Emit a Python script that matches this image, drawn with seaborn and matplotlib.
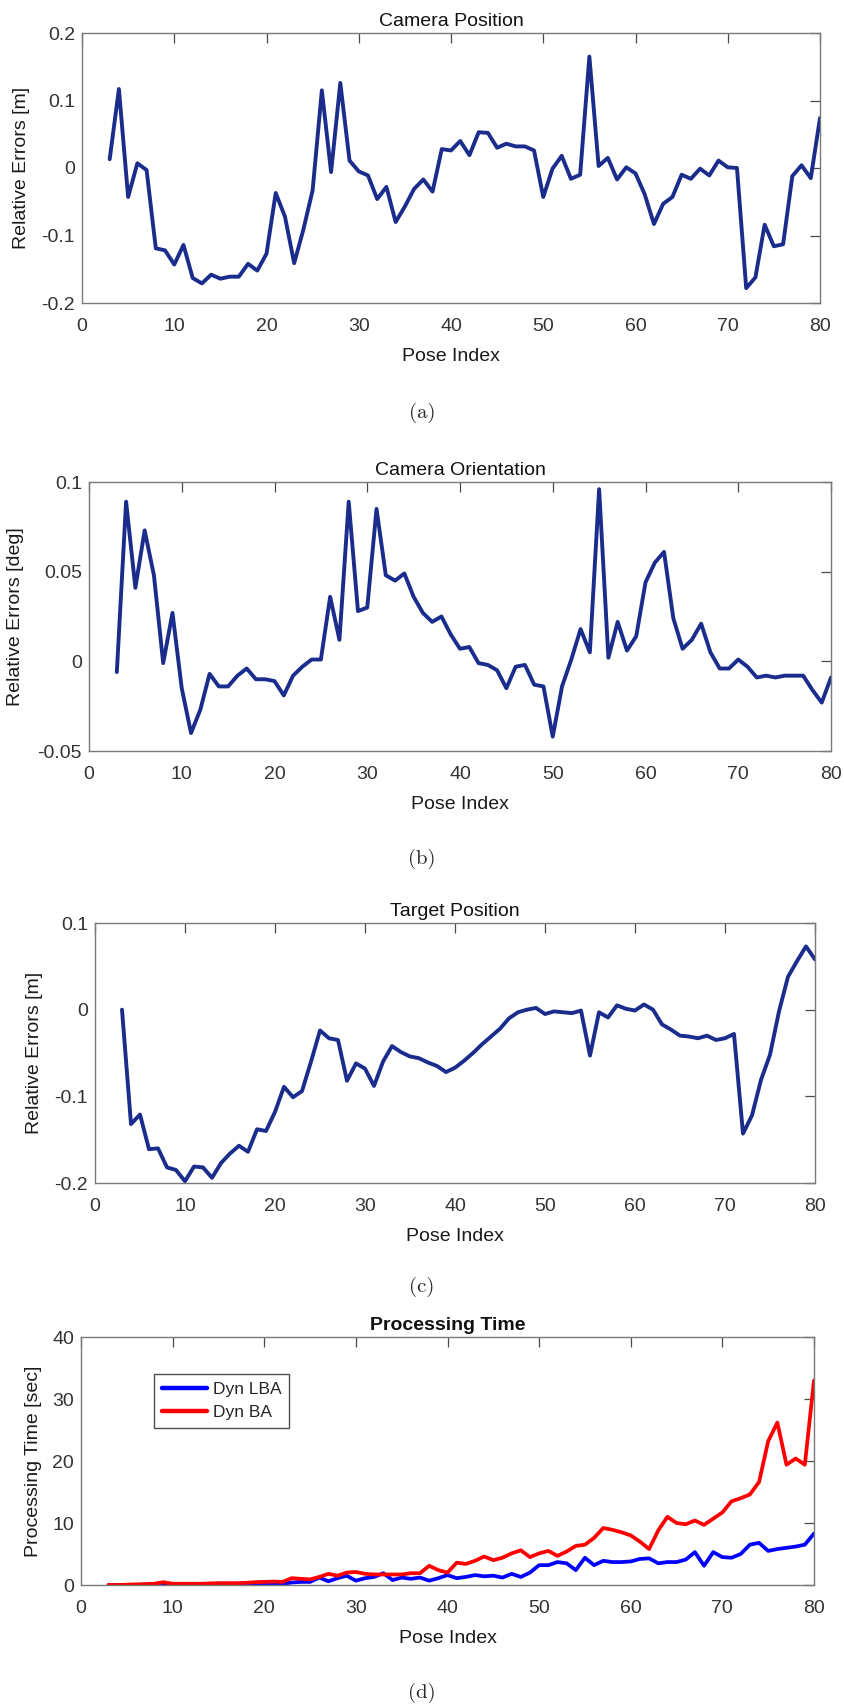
import numpy as np
import pandas as pd
import matplotlib
matplotlib.use("Agg")
import matplotlib.pyplot as plt
import seaborn as sns

pose = list(range(3, 81))

cam_pos = [0.013, 0.117, -0.043, 0.007, -0.003, -0.119, -0.122, -0.143, -0.114, -0.163,
           -0.171, -0.158, -0.164, -0.161, -0.161, -0.142, -0.152, -0.127, -0.037, -0.072,
           -0.141, -0.091, -0.033, 0.115, -0.006, 0.126, 0.011, -0.005, -0.011, -0.046,
           -0.028, -0.080, -0.057, -0.031, -0.017, -0.035, 0.028, 0.026, 0.040, 0.019,
           0.053, 0.052, 0.030, 0.036, 0.032, 0.032, 0.026, -0.043, -0.001, 0.018,
           -0.016, -0.010, 0.165, 0.003, 0.015, -0.017, 0.001, -0.008, -0.039, -0.083,
           -0.053, -0.043, -0.010, -0.016, -0.001, -0.011, 0.011, 0.001, 0.000, -0.178,
           -0.162, -0.084, -0.116, -0.113, -0.012, 0.004, -0.015, 0.074]

cam_ori = [-0.006, 0.089, 0.041, 0.073, 0.048, -0.001, 0.027, -0.015, -0.040, -0.027,
           -0.007, -0.014, -0.014, -0.008, -0.004, -0.010, -0.010, -0.011, -0.019, -0.008,
           -0.003, 0.001, 0.001, 0.036, 0.012, 0.089, 0.028, 0.030, 0.085, 0.048,
           0.045, 0.049, 0.036, 0.027, 0.022, 0.025, 0.015, 0.007, 0.008, -0.001,
           -0.002, -0.005, -0.015, -0.003, -0.002, -0.013, -0.014, -0.042, -0.014, 0.001,
           0.018, 0.005, 0.096, 0.002, 0.022, 0.006, 0.014, 0.044, 0.055, 0.061,
           0.024, 0.007, 0.012, 0.021, 0.005, -0.004, -0.004, 0.001, -0.003, -0.009,
           -0.008, -0.009, -0.008, -0.008, -0.008, -0.016, -0.023, -0.009]

tgt_pos = [0.000, -0.132, -0.121, -0.161, -0.160, -0.182, -0.185, -0.198, -0.181, -0.182,
           -0.194, -0.177, -0.166, -0.157, -0.164, -0.138, -0.140, -0.118, -0.089, -0.101,
           -0.094, -0.060, -0.024, -0.033, -0.035, -0.082, -0.062, -0.068, -0.088, -0.060,
           -0.042, -0.049, -0.054, -0.056, -0.061, -0.065, -0.072, -0.067, -0.059, -0.050,
           -0.040, -0.031, -0.022, -0.010, -0.003, 0.000, 0.002, -0.005, -0.002, -0.003,
           -0.004, -0.001, -0.053, -0.003, -0.009, 0.005, 0.001, -0.001, 0.006, 0.000,
           -0.017, -0.023, -0.030, -0.031, -0.033, -0.030, -0.035, -0.033, -0.028, -0.143,
           -0.122, -0.081, -0.052, -0.002, 0.038, 0.056, 0.073, 0.058]

time_lba = [0, 0, 0, 0.02, 0.03, 0.05, 0.05, 0.05, 0.05, 0.05,
            0.05, 0.06, 0.08, 0.1, 0.1, 0.12, 0.15, 0.2, 0.2, 0.2,
            0.4, 0.5, 0.5, 1.2, 0.6, 1.1, 1.5, 0.7, 1.1, 1.3,
            1.9, 0.8, 1.2, 1.0, 1.2, 0.7, 1.1, 1.6, 1.1, 1.3,
            1.6, 1.4, 1.5, 1.2, 1.8, 1.3, 2.0, 3.2, 3.2, 3.7,
            3.5, 2.4, 4.4, 3.2, 3.9, 3.7, 3.7, 3.8, 4.2, 4.3,
            3.5, 3.7, 3.7, 4.1, 5.3, 3.1, 5.3, 4.5, 4.4, 5.0,
            6.5, 6.8, 5.5, 5.8, 6.0, 6.2, 6.5, 8.3]

time_ba = [0, 0, 0.05, 0.1, 0.15, 0.2, 0.45, 0.2, 0.2, 0.2,
           0.2, 0.25, 0.3, 0.3, 0.3, 0.35, 0.45, 0.5, 0.55, 0.5,
           1.1, 1.0, 0.9, 1.3, 1.8, 1.5, 2.0, 2.1, 1.8, 1.7,
           1.7, 1.7, 1.7, 1.9, 1.9, 3.1, 2.4, 2.0, 3.6, 3.4,
           3.9, 4.6, 4.0, 4.4, 5.1, 5.6, 4.5, 5.1, 5.5, 4.7,
           5.4, 6.3, 6.5, 7.6, 9.2, 8.9, 8.5, 8.0, 7.0, 5.8,
           8.8, 11.0, 10.0, 9.8, 10.4, 9.7, 10.7, 11.7, 13.5, 14.0,
           14.6, 16.6, 23.2, 26.2, 19.4, 20.4, 19.4, 33.0]

titles = ["Camera Position", "Camera Orientation", "Target Position", "Processing Time"]
ylabels = ["Relative Errors [m]", "Relative Errors [deg]", "Relative Errors [m]",
           "Processing Time [sec]"]
captions = ["(a)", "(b)", "(c)", "(d)"]
xticks = [0, 10, 20, 30, 40, 50, 60, 70, 80]
yticks_a = [-0.2, -0.1, 0, 0.1, 0.2]
ylabels_a = ["-0.2", "-0.1", "0", "0.1", "0.2"]
yticks_b = [-0.05, 0, 0.05, 0.1]
ylabels_b = ["-0.05", "0", "0.05", "0.1"]
yticks_c = [-0.2, -0.1, 0, 0.1]
ylabels_c = ["-0.2", "-0.1", "0", "0.1"]
yticks_d = [0, 10, 20, 30, 40]
ylabels_d = ["0", "10", "20", "30", "40"]
series_names = ["Dyn LBA", "Dyn BA"]

sns.set_theme(style="white")
plt.rcParams['font.family'] = ['Liberation Sans', 'DejaVu Sans']
plt.rcParams['axes.edgecolor'] = '#7a7a7a'
plt.rcParams['axes.linewidth'] = 1.0

W, H = 844, 1707
fig = plt.figure(figsize=(W / 100, H / 100), dpi=100)

# (left, right, top, bottom) in pixels
boxes = [(82, 820, 33, 303), (89, 831, 482, 751), (95, 815, 923, 1183), (81, 814, 1337, 1585)]
ylab_x = [21.5, 16, 35, 34]
cap_y = [413, 859, 1287, 1693]

navy = "#1a2d8c"
axes = []
for (l, r, t, b) in boxes:
    ax = fig.add_axes([l / W, 1 - b / H, (r - l) / W, (b - t) / H])
    axes.append(ax)

df_a = pd.DataFrame({"pose": pose, "err": cam_pos})
df_b = pd.DataFrame({"pose": pose, "err": cam_ori})
df_c = pd.DataFrame({"pose": pose, "err": tgt_pos})
df_d = pd.DataFrame({
    "pose": pose + pose,
    "time": time_lba + time_ba,
    "method": [series_names[0]] * len(pose) + [series_names[1]] * len(pose),
})

sns.lineplot(data=df_a, x="pose", y="err", ax=axes[0], color=navy, lw=2.8)
sns.lineplot(data=df_b, x="pose", y="err", ax=axes[1], color=navy, lw=2.8)
sns.lineplot(data=df_c, x="pose", y="err", ax=axes[2], color=navy, lw=2.8)
sns.lineplot(data=df_d, x="pose", y="time", hue="method", ax=axes[3],
             palette={series_names[0]: "#0000ff", series_names[1]: "#ff0000"}, lw=2.7)

ylims = [(-0.2, 0.2), (-0.05, 0.1), (-0.2, 0.1), (0, 40)]
yt = [(yticks_a, ylabels_a), (yticks_b, ylabels_b), (yticks_c, ylabels_c), (yticks_d, ylabels_d)]

for i, ax in enumerate(axes):
    l, r, t, b = boxes[i]
    ax.set_xlim(0, 80)
    ax.set_ylim(*ylims[i])
    ax.set_xticks(xticks)
    ax.set_xticklabels([str(v) for v in xticks])
    ax.set_yticks(yt[i][0])
    ax.set_yticklabels(yt[i][1])
    ax.tick_params(direction="in", length=7, width=0.9, colors="#4a4a4a",
                   top=True, right=True, labelsize=14, labelcolor="#333333")
    ax.tick_params(axis="x", pad=11)
    ax.tick_params(axis="y", pad=5)
    for s in ax.spines.values():
        s.set_visible(True)
        s.set_color("#7a7a7a")
    ax.set_title(titles[i], fontsize=14, pad=5, color="#111111",
                 fontweight="bold" if i == 3 else "normal")
    ax.set_xlabel("Pose Index", fontsize=14, labelpad=9, color="#1a1a1a")
    ax.set_ylabel(ylabels[i], fontsize=14, color="#1a1a1a")
    ax.yaxis.set_label_coords((ylab_x[i] - l) / (r - l), 0.5)
    ax.yaxis.label.set_va("center")
    fig.text(0.5, 1 - cap_y[i] / H, captions[i], ha="center", va="center",
             fontsize=15, family="cmr10")

leg_ax = axes[3]
l, r, t, b = boxes[3]
leg = leg_ax.legend(loc="upper left", bbox_to_anchor=((154 - l) / (r - l), (b - 1374) / (b - t)),
                    borderaxespad=0, fontsize=12.5, frameon=True, fancybox=False,
                    edgecolor="#222222", handlelength=2.6, handletextpad=0.35,
                    labelspacing=0.45, borderpad=0.45)
leg.get_frame().set_linewidth(1.0)
for line in leg.get_lines():
    line.set_linewidth(3.2)

fig.savefig("out.png", dpi=100, facecolor="white")
